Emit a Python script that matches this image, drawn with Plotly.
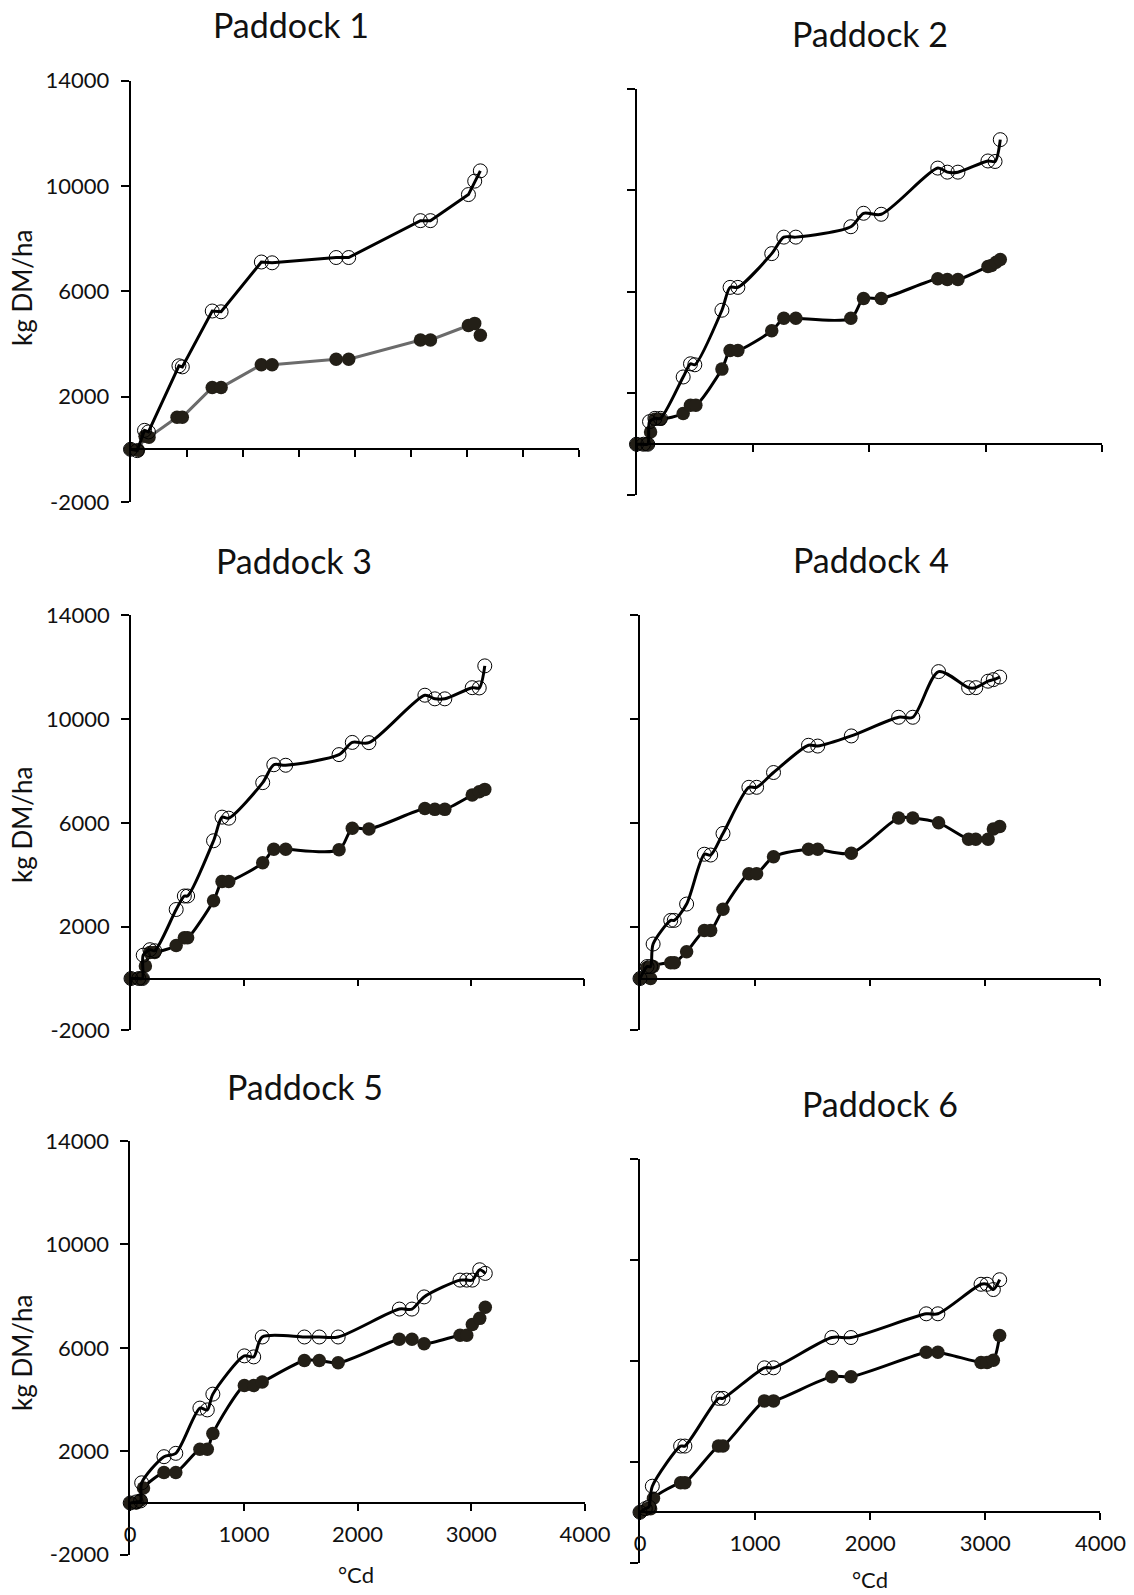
import plotly.graph_objects as go

# ---------------- data (°Cd, kg DM/ha) ----------------
p1_open_x = [0, 60, 125, 160, 432, 462, 729, 808, 1167, 1263, 1834, 1946, 2586, 2675, 3014, 3070, 3120]
p1_open_y = [0, -50, 720, 660, 3170, 3130, 5250, 5220, 7110, 7080, 7280, 7280, 8680, 8680, 9670, 10180, 10570]
p1_fill_x = [0, 70, 130, 165, 415, 462, 729, 808, 1167, 1263, 1834, 1946, 2586, 2675, 3014, 3070, 3120]
p1_fill_y = [0, -40, 500, 460, 1220, 1220, 2350, 2350, 3210, 3210, 3420, 3420, 4150, 4150, 4700, 4780, 4330]

p2_open_x = [0, 60, 97, 112, 158, 206, 401, 464, 501, 734, 804, 871, 1162, 1266, 1369, 1842, 1951, 2103, 2589, 2671, 2762, 3020, 3081, 3126]
p2_open_y = [0, 0, 0, 890, 1020, 1020, 2650, 3170, 3130, 5280, 6180, 6180, 7510, 8160, 8160, 8570, 9100, 9060, 10880, 10720, 10720, 11160, 11140, 12000]
p2_fill_x = [0, 60, 97, 121, 158, 206, 401, 464, 510, 734, 804, 871, 1162, 1266, 1369, 1842, 1951, 2103, 2589, 2671, 2762, 3020, 3050, 3090, 3126]
p2_fill_y = [0, 0, 0, 480, 980, 980, 1210, 1540, 1540, 2960, 3690, 3690, 4470, 4960, 4960, 4960, 5740, 5740, 6520, 6490, 6490, 7000, 7040, 7170, 7280]

p3_open_x = [0, 69, 101, 108, 167, 209, 399, 471, 500, 729, 804, 863, 1163, 1261, 1366, 1837, 1954, 2101, 2595, 2683, 2771, 3013, 3075, 3124]
p3_open_y = [0, 0, 0, 900, 1110, 1070, 2660, 3180, 3180, 5310, 6220, 6180, 7550, 8240, 8220, 8630, 9100, 9090, 10920, 10780, 10780, 11210, 11200, 12050]
p3_fill_x = [0, 69, 101, 127, 167, 209, 399, 471, 500, 729, 804, 863, 1163, 1261, 1366, 1837, 1954, 2101, 2595, 2683, 2771, 3013, 3075, 3124]
p3_fill_y = [0, 0, 0, 480, 1000, 1000, 1270, 1570, 1570, 3000, 3740, 3740, 4460, 4980, 4980, 4960, 5790, 5760, 6550, 6520, 6520, 7070, 7200, 7290]

p4_open_x = [0, 61, 92, 114, 267, 298, 405, 559, 614, 721, 946, 1013, 1160, 1464, 1544, 1836, 2247, 2370, 2594, 2855, 2917, 3024, 3070, 3125]
p4_open_y = [0, 460, 460, 1330, 2240, 2240, 2870, 4790, 4760, 5590, 7370, 7370, 7940, 8990, 8960, 9350, 10070, 10070, 11830, 11210, 11210, 11460, 11520, 11620]
p4_fill_x = [0, 61, 92, 114, 267, 298, 405, 559, 614, 721, 946, 1013, 1160, 1464, 1544, 1836, 2247, 2370, 2594, 2855, 2917, 3024, 3070, 3125]
p4_fill_y = [0, 420, 0, 460, 610, 610, 1030, 1850, 1850, 2670, 4040, 4040, 4690, 4980, 4980, 4830, 6190, 6190, 6000, 5370, 5370, 5370, 5760, 5860]

p5_open_x = [0, 52, 91, 101, 297, 401, 613, 678, 727, 1004, 1086, 1161, 1532, 1663, 1829, 2367, 2478, 2585, 2901, 2960, 3009, 3074, 3123]
p5_open_y = [0, 40, 80, 780, 1790, 1920, 3670, 3600, 4210, 5690, 5650, 6420, 6420, 6420, 6420, 7500, 7500, 7970, 8620, 8620, 8620, 9020, 8880]
p5_fill_x = [0, 52, 91, 117, 297, 401, 613, 678, 727, 1004, 1086, 1161, 1532, 1663, 1829, 2367, 2478, 2585, 2901, 2960, 3009, 3074, 3123]
p5_fill_y = [0, 0, 110, 580, 1180, 1180, 2080, 2080, 2690, 4540, 4540, 4680, 5510, 5510, 5420, 6330, 6330, 6160, 6490, 6490, 6900, 7140, 7570]

p6_open_x = [0, 46, 77, 107, 353, 390, 682, 721, 1081, 1160, 1667, 1833, 2487, 2588, 2963, 3015, 3070, 3125]
p6_open_y = [0, 140, 210, 1030, 2620, 2620, 4510, 4510, 5720, 5720, 6920, 6920, 7860, 7860, 9030, 9030, 8820, 9210]
p6_fill_x = [0, 61, 92, 117, 353, 390, 682, 721, 1081, 1160, 1667, 1833, 2487, 2588, 2963, 3015, 3070, 3125]
p6_fill_y = [0, 140, 140, 550, 1170, 1170, 2620, 2620, 4410, 4410, 5370, 5370, 6340, 6340, 5930, 5930, 6020, 7000]

titles = ["Paddock 1", "Paddock 2", "Paddock 3", "Paddock 4", "Paddock 5", "Paddock 6"]
y_tick_vals = [-2000, 2000, 6000, 10000, 14000]
y_tick_text = ["-2000", "2000", "6000", "10000", "14000"]
x_tick_vals_fine = [500, 1000, 1500, 2000, 2500, 3000, 3500, 4000]
x_tick_vals = [0, 1000, 2000, 3000, 4000]
x_tick_text = ["0", "1000", "2000", "3000", "4000"]
y_title = "kg DM/ha"
x_title = "°Cd"

series = [
    (p1_open_x, p1_open_y, p1_fill_x, p1_fill_y),
    (p2_open_x, p2_open_y, p2_fill_x, p2_fill_y),
    (p3_open_x, p3_open_y, p3_fill_x, p3_fill_y),
    (p4_open_x, p4_open_y, p4_fill_x, p4_fill_y),
    (p5_open_x, p5_open_y, p5_fill_x, p5_fill_y),
    (p6_open_x, p6_open_y, p6_fill_x, p6_fill_y),
]

# ---------------- layout geometry (pixels) ----------------
W, H = 1134, 1595
# left (x=0), right (x=4000), top (y=14000), bottom (y=-2000)
boxes = [
    (130.5, 579.0, 80.5, 502.0),
    (636.5, 1102.0, 88.9, 495.0),
    (131.0, 584.0, 615.3, 1030.4),
    (640.0, 1100.4, 615.3, 1030.4),
    (130.2, 585.0, 1141.0, 1554.7),
    (640.0, 1100.4, 1158.8, 1562.7),
]
title_pos = [(291, 25), (869.5, 33.5), (294, 560.5), (870.5, 559.5), (305, 1086), (879.5, 1103)]
ylab_pos = [(22, 288), None, (22, 825), None, (22, 1353), None]
xlab_pos = [None, None, None, None, (356, 1574), (870, 1579)]

FONT = "Lato, Carlito, 'Open Sans', sans-serif"
TXT = "#111111"
FILL = "#231f17"

fig = go.Figure()
annotations = []
for i, (ox, oy, fx, fy) in enumerate(series):
    n = "" if i == 0 else str(i + 1)
    xa, ya = "x" + n, "y" + n
    l, r, t, b = boxes[i]
    fill_line = "#6b6b6b" if i == 0 else "#000000"
    shape = "linear" if i == 0 else "spline"
    fig.add_trace(go.Scatter(
        x=fx, y=fy, xaxis=xa, yaxis=ya, mode="lines+markers",
        line=dict(color=fill_line, width=3, shape=shape, smoothing=0.8),
        marker=dict(symbol="circle", size=13.5, color=FILL, line=dict(width=0)),
        cliponaxis=False, showlegend=False))
    fig.add_trace(go.Scatter(
        x=ox, y=oy, xaxis=xa, yaxis=ya, mode="lines+markers",
        line=dict(color="#000000", width=3, shape=shape, smoothing=0.8),
        marker=dict(symbol="circle-open", size=14, color="#000000", line=dict(width=1)),
        cliponaxis=False, showlegend=False))

    y_bot, y_top = 1 - b / H, 1 - t / H
    zero_px = t + (14000 / 16000) * (b - t)
    show_x_labels = i >= 4
    fig.update_layout(**{
        "xaxis" + n: dict(
            domain=[l / W, r / W], range=[0, 4000], anchor="free", position=1 - zero_px / H,
            showline=True, linecolor="#000000", linewidth=1.6,
            ticks="outside", ticklen=7, tickwidth=1.6, tickcolor="#000000",
            tickvals=x_tick_vals_fine if i == 0 else x_tick_vals,
            ticktext=None if i == 0 else x_tick_text,
            showticklabels=show_x_labels, ticklabelstandoff=5,
            tickfont=dict(family=FONT, size=22, color=TXT), automargin=False,
            showgrid=False, zeroline=False, fixedrange=True),
        "yaxis" + n: dict(
            domain=[y_bot, y_top], range=[-2000, 14000], anchor=xa,
            showline=True, linecolor="#000000", linewidth=1.6,
            ticks="outside", ticklen=8, tickwidth=1.6, tickcolor="#000000",
            tickvals=y_tick_vals, ticktext=y_tick_text,
            showticklabels=(i % 2 == 0), ticklabelstandoff=7,
            tickfont=dict(family=FONT, size=22, color=TXT), automargin=False,
            showgrid=False, zeroline=False, fixedrange=True),
    })

    tx, ty = title_pos[i]
    annotations.append(dict(text=titles[i], x=tx / W, y=1 - ty / H, xref="paper", yref="paper",
                            xanchor="center", yanchor="middle", showarrow=False,
                            font=dict(family=FONT, size=34, color=TXT)))
    if ylab_pos[i]:
        yx, yy = ylab_pos[i]
        annotations.append(dict(text=y_title, x=yx / W, y=1 - yy / H, xref="paper", yref="paper",
                                xanchor="center", yanchor="middle", textangle=-90, showarrow=False,
                                font=dict(family=FONT, size=26, color=TXT)))
    if xlab_pos[i]:
        xx, xy = xlab_pos[i]
        annotations.append(dict(text=x_title, x=xx / W, y=1 - xy / H, xref="paper", yref="paper",
                                xanchor="center", yanchor="middle", showarrow=False,
                                font=dict(family=FONT, size=22, color=TXT)))

fig.update_layout(width=W, height=H, margin=dict(l=0, r=0, t=0, b=0, pad=0, autoexpand=False),
                  autosize=False,
                  paper_bgcolor="white", plot_bgcolor="white",
                  annotations=annotations, showlegend=False)
fig.write_html("out.html")
